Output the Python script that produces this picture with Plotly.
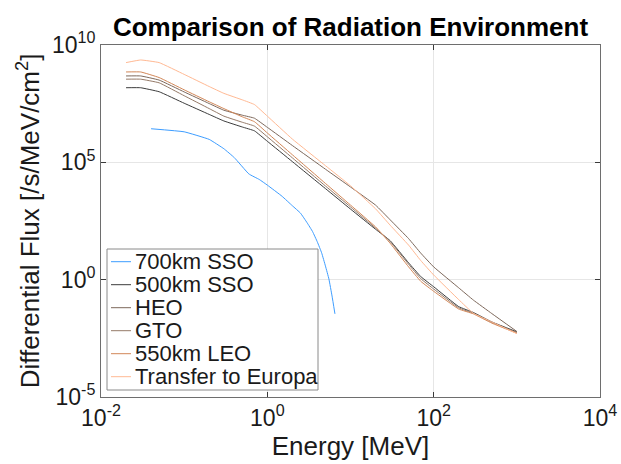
import plotly.graph_objects as go

# ---- data -------------------------------------------------------------
energy_sso700 = [0.04, 0.1, 0.2, 0.3, 0.4, 0.6, 0.8, 1.0, 1.5, 2.0, 2.5, 3.0,
                 3.5, 4.0, 4.5, 5.0, 5.5, 6.0, 6.5]
flux_sso700 = [2.7e6, 2.0e6, 9.5e5, 3.8e5, 1.6e5, 3.2e4, 1.86e4, 1.07e4, 3.6e3,
               1.41e3, 690, 270, 112, 40, 13.8, 3.8, 1.07, 0.2, 0.035]

energy = [0.02, 0.03, 0.05, 0.1, 0.2, 0.3, 0.5, 0.7, 1, 2, 5, 10, 20, 30, 50,
          70, 100, 200, 300, 500, 1000]
flux_sso500 = [1.51e8, 1.51e8, 1.02e8, 3.3e7, 1.1e7, 5.8e6, 3.2e6, 2.2e6, 7.9e5,
               1.07e5, 7.6e3, 1.02e3, 141, 45.7, 5.2, 1.35, 0.50, 0.071, 0.040,
               0.0158, 0.0060]
flux_heo = [4.8e8, 4.8e8, 3.2e8, 1.0e8, 3.2e7, 1.66e7, 1.02e7, 7.6e6, 3.1e6,
            5.2e5, 5.1e4, 8.9e3, 1.51e3, 355, 56, 13.5, 3.5, 0.45, 0.135, 0.036,
            0.0062]
flux_gto = [3.5e8, 3.5e8, 2.45e8, 6.9e7, 1.95e7, 9.3e6, 5.1e6, 3.5e6, 1.23e6,
            1.55e5, 9.8e3, 1.26e3, 158, 42, 4.5, 1.1, 0.40, 0.063, 0.037,
            0.0151, 0.0056]
flux_leo550 = [7.1e8, 7.1e8, 4.1e8, 1.23e8, 3.8e7, 1.95e7, 8.7e6, 5.4e6, 1.78e6,
               2.1e5, 1.26e4, 1.51e3, 178, 35.5, 3.5, 0.85, 0.32, 0.056, 0.035,
               0.0141, 0.0052]
flux_europa = [1.78e9, 2.3e9, 1.78e9, 5.6e8, 1.7e8, 8.7e7, 4.6e7, 2.9e7, 9.3e6,
               9.8e5, 7.2e4, 1.0e4, 1.05e3, 209, 29.5, 6.5, 1.58, 0.141, 0.037,
               0.0158, 0.0050]

series_names = ["700km SSO", "500km SSO", "HEO", "GTO", "550km LEO",
                "Transfer to Europa"]
series_colors = ["#3d9dff", "#3c3c3c", "#7d685b", "#957a68", "#d28758",
                 "#ffb993"]

x_tickvals = [1e-2, 1e0, 1e2, 1e4]
x_ticktext = ["10<sup>-2</sup>", "10<sup>0</sup>", "10<sup>2</sup>",
              "10<sup>4</sup>"]
y_tickvals = [1e-5, 1e0, 1e5, 1e10]
y_ticktext = ["10<sup>-5</sup>", "10<sup>0</sup>", "10<sup>5</sup>",
              "10<sup>10</sup>"]

# ---- figure geometry (pixels) ------------------------------------------
W, H = 621, 464
L, R, T, B = 101, 21, 45, 67
FONT = "Liberation Sans, Arial, Helvetica, sans-serif"
TXT = "#1a1a1a"


def px_x(px):
    return (px - L) / (W - L - R)


def px_y(py):
    return (H - B - py) / (H - T - B)


fig = go.Figure()
xs = [energy_sso700] + [energy] * 5
ys = [flux_sso700, flux_sso500, flux_heo, flux_gto, flux_leo550, flux_europa]
for name, color, x, y in zip(series_names, series_colors, xs, ys):
    fig.add_trace(go.Scatter(x=x, y=y, mode="lines", name=name,
                             line=dict(color=color, width=1, shape="spline",
                                       smoothing=0.3),
                             showlegend=False))

# ---- legend box drawn in paper space ----------------------------------
shapes = [dict(type="rect", xref="paper", yref="paper",
               x0=px_x(107), x1=px_x(318), y0=px_y(390), y1=px_y(249),
               line=dict(color="#8a8a8a", width=1), fillcolor="white",
               layer="above")]
annotations = []
row0, step = 261.7, 23.0
for i, (name, color) in enumerate(zip(series_names, series_colors)):
    yy = px_y(row0 + i * step)
    shapes.append(dict(type="line", xref="paper", yref="paper",
                       x0=px_x(111), x1=px_x(131), y0=yy, y1=yy,
                       line=dict(color=color, width=1), layer="above"))
    annotations.append(dict(xref="paper", yref="paper", x=px_x(133), y=yy,
                            text=name, showarrow=False, xanchor="left",
                            yanchor="middle",
                            font=dict(family=FONT, size=22, color=TXT)))

axis_common = dict(
    type="log", showline=True, mirror="ticks", linecolor="#6e6e6e",
    linewidth=1, ticks="inside", ticklen=5, tickcolor="#3a3a3a",
    showgrid=True, gridcolor="#e6e6e6", gridwidth=1, zeroline=False,
    tickfont=dict(family=FONT, size=23, color=TXT),
)

fig.update_layout(
    width=W, height=H,
    margin=dict(l=L, r=R, t=T, b=B, autoexpand=False),
    paper_bgcolor="white", plot_bgcolor="white",
    title=dict(text="<b>Comparison of Radiation Environment</b>",
               x=0.5, xref="paper", xanchor="center",
               y=1 - 27 / H, yref="container", yanchor="middle",
               font=dict(family=FONT, size=26, color="black")),
    xaxis=dict(axis_common, range=[-2, 4], tickvals=x_tickvals,
               ticktext=x_ticktext,
               title=dict(text="Energy [MeV]", standoff=2,
                          font=dict(family=FONT, size=26, color=TXT))),
    yaxis=dict(axis_common, range=[-5, 10], tickvals=y_tickvals,
               ticktext=y_ticktext,
               title=dict(text="Differential Flux [/s/MeV/cm<sup>2</sup>]",
                          standoff=4,
                          font=dict(family=FONT, size=26, color=TXT))),
    shapes=shapes, annotations=annotations,
)

fig.write_html("out.html")
